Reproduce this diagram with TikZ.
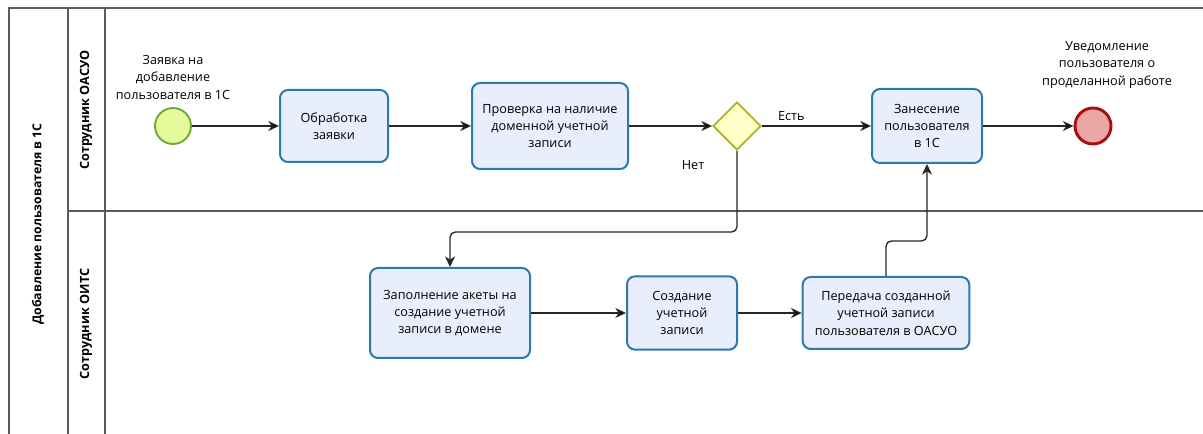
\documentclass[tikz,border=0pt]{standalone}
\usepackage{fontspec}
\setmainfont{Open Sans}
\definecolor{taskline}{HTML}{2A7AB0}
\definecolor{taskfill}{HTML}{E9EEFC}
\definecolor{startline}{HTML}{6AAA2A}
\definecolor{startfill}{HTML}{E5FA9C}
\definecolor{endline}{HTML}{A80F0F}
\definecolor{endfill}{HTML}{EDA6A6}
\definecolor{gateline}{HTML}{B0B020}
\definecolor{gatefill}{HTML}{FFFFC8}
\definecolor{poolline}{HTML}{5A5A5A}
\usetikzlibrary{shapes.geometric,arrows.meta}
\tikzset{>={Stealth[length=8pt,width=7.5pt,inset=2.5pt]}}

\begin{document}
\begin{tikzpicture}[x=0.75pt,y=-0.75pt,font=\fontsize{9.5}{13}\selectfont,
  task/.style={draw=taskline, fill=taskfill, line width=1.5pt, rounded corners=6pt, align=center, inner sep=0pt},
  startev/.style={circle, draw=startline, fill=startfill, line width=1.4pt, minimum size=27pt, inner sep=0pt},
  endev/.style={circle, draw=endline, fill=endfill, line width=2.2pt, minimum size=27pt, inner sep=0pt},
  gate/.style={diamond, aspect=1, draw=gateline, fill=gatefill, line width=1.4pt, minimum size=36pt, inner sep=0pt},
  lane/.style={draw=poolline, line width=0.8pt},
  flow/.style={->, draw=black!85, line width=1pt},
  lanetitle/.style={rotate=90, font=\fontsize{9.5}{11}\selectfont\bfseries}]
\useasboundingbox (0,0) rectangle (1203,434);
% pool and lanes
\draw[lane] (1203,8) -- (9,8) -- (9,434);
\draw[lane] (68,8) -- (68,434);
\draw[lane] (105,8) -- (105,434);
\draw[lane] (68,211) -- (1203,211);
\node[lanetitle, font=\fontsize{9.2}{11}\selectfont\bfseries] (pooltitle) at (38,224) {Добавление пользователя в 1С};
\node[lanetitle] (laneoasu) at (86,110) {Сотрудник ОАСУО};
\node[lanetitle] (laneoits) at (86,324) {Сотрудник ОИТС};

% upper lane
\node[startev] (start) at (173,126) {};
\node[align=center, anchor=south] (startlbl) at (173,104) {Заявка на\\добавление\\пользователя в 1С};
\node[task, minimum width=81pt, minimum height=54pt] (work) at (334,126) {Обработка\\заявки};
\node[task, minimum width=117pt, minimum height=64.5pt] (check) at (550,126) {Проверка на наличие\\доменной учетной\\записи};
\node[gate] (gw) at (737,126) {};
\node[task, minimum width=82.5pt, minimum height=55.5pt] (enter) at (927,126) {Занесение\\пользователя\\в 1С};
\node[endev] (finish) at (1093,126) {};
\node[align=center, anchor=south] (finishlbl) at (1107,93) {Уведомление\\пользователя о\\проделанной работе};

% lower lane
\node[task, minimum width=120pt, minimum height=67.5pt] (fill) at (450,313) {Заполнение акеты на\\создание учетной\\записи в домене};
\node[task, minimum width=82.5pt, minimum height=55pt] (create) at (682,313) {Создание\\учетной\\записи};
\node[task, minimum width=125pt, minimum height=54pt] (pass) at (886,313) {Передача созданной\\учетной записи\\пользователя в ОАСУО};

\coordinate (bendno) at (737,232);
\coordinate (bendup) at (886,241);

\path[flow]
  (start) edge (work)
  (work) edge (check)
  (check) edge (gw)
  (gw) edge node[above, pos=0.27] (yes) {Есть} (enter)
  (enter) edge (finish)
  (fill) edge (create)
  (create) edge (pass);
\draw[flow, rounded corners=4pt] (gw.south) -- (bendno) -| (fill.north);
\draw[flow, rounded corners=4pt] (pass.north) -- (bendup) -| (enter.south);
\node (no) at (693,165) {Нет};
\end{tikzpicture}
\end{document}
